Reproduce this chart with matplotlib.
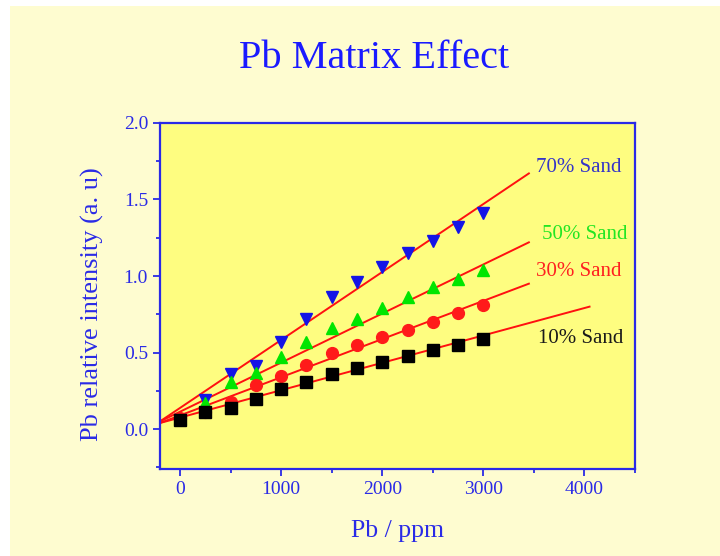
import numpy as np
import matplotlib
matplotlib.use("Agg")
import matplotlib.pyplot as plt
from matplotlib.patches import Rectangle
from matplotlib.ticker import MultipleLocator

# Pb concentration (ppm)
pb_ppm = [0, 250, 500, 750, 1000, 1250, 1500, 1750, 2000, 2250, 2500, 2750, 3000]

# relative intensity
sand_70 = [0.06, 0.19, 0.36, 0.41, 0.57, 0.72, 0.86, 0.96, 1.06, 1.15, 1.23, 1.32, 1.41]
sand_50 = [0.07, 0.17, 0.31, 0.37, 0.47, 0.57, 0.66, 0.72, 0.79, 0.86, 0.93, 0.98, 1.04]
sand_30 = [0.07, 0.11, 0.18, 0.29, 0.35, 0.42, 0.50, 0.55, 0.60, 0.65, 0.70, 0.76, 0.81]
sand_10 = [0.06, 0.11, 0.14, 0.20, 0.26, 0.31, 0.36, 0.40, 0.44, 0.48, 0.52, 0.55, 0.59]

# fitted lines: (x start, y start, x end, y end)
fit_70 = (-200, 0.05, 3450, 1.67)
fit_50 = (-200, 0.05, 3450, 1.22)
fit_30 = (-200, 0.04, 3450, 0.95)
fit_10 = (-200, 0.04, 4050, 0.80)

labels = ["70% Sand", "50% Sand", "30% Sand", "10% Sand"]
label_pos = [(3520, 1.71), (3580, 1.27), (3520, 1.03), (3540, 0.59)]

blue = "#2a2ae6"
series = [
    (sand_70, fit_70, "v", "#1414e6"),
    (sand_50, fit_50, "^", "#00e600"),
    (sand_30, fit_30, "o", "#ff1a1a"),
    (sand_10, fit_10, "s", "#000000"),
]
label_colors = ["#3535c8", "#22e622", "#ff2020", "#1a1a1a"]

fig = plt.figure(figsize=(7.2, 5.56), dpi=100, facecolor="white")
fig.patches.append(Rectangle((10 / 720, 0), 1, 1 - 6 / 556, transform=fig.transFigure,
                             facecolor="#fefcd0", edgecolor="none", zorder=-10))

ax = fig.add_axes([0.222, 0.1565, 0.66, 0.6225])
ax.set_facecolor("#fefd80")

for vals, fit, mk, col in series:
    ax.plot([fit[0], fit[2]], [fit[1], fit[3]], color="#ff1010", lw=1.4, zorder=2)
    ax.plot(pb_ppm, vals, mk, color=col, markersize=8.5, zorder=3)

for text, (tx, ty), col in zip(labels, label_pos, label_colors):
    ax.text(tx, ty, text, color=col, fontsize=15, family="Liberation Serif",
            va="center", ha="left")

ax.set_xlim(-200, 4500)
ax.set_ylim(-0.26, 2.0)
ax.xaxis.set_major_locator(MultipleLocator(1000))
ax.xaxis.set_minor_locator(MultipleLocator(500))
ax.yaxis.set_major_locator(MultipleLocator(0.5))
ax.yaxis.set_minor_locator(MultipleLocator(0.25))
ax.yaxis.set_major_formatter(matplotlib.ticker.FormatStrFormatter("%.1f"))

for sp in ax.spines.values():
    sp.set_color(blue)
    sp.set_linewidth(1.6)
ax.tick_params(which="both", direction="out", colors=blue, labelcolor=blue,
               labelsize=14, width=1.3)
ax.tick_params(which="major", length=5)
ax.tick_params(which="minor", length=3)
for lab in ax.get_xticklabels() + ax.get_yticklabels():
    lab.set_family("Liberation Serif")

ax.set_xlabel("Pb / ppm", color=blue, fontsize=18.5, family="Liberation Serif", labelpad=16)
ax.set_ylabel("Pb relative intensity (a. u)", color=blue, fontsize=19,
              family="Liberation Serif", labelpad=10)
ax.yaxis.set_label_coords(-0.118, 0.475)

fig.text(0.52, 0.895, "Pb Matrix Effect", color="#1a1aff", fontsize=29,
         family="Liberation Serif", ha="center", va="center")

fig.savefig("out.png", dpi=100, facecolor=fig.get_facecolor())
